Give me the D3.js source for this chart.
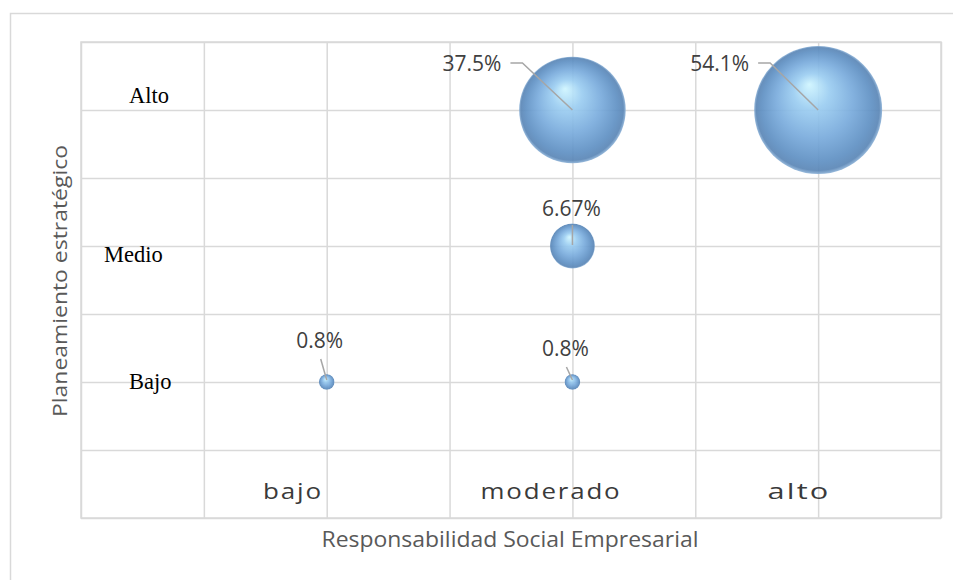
<!DOCTYPE html>
<html>
<head>
<meta charset="utf-8">
<script src="https://cdn.jsdelivr.net/npm/d3@7"></script>
<style>
  html, body { margin: 0; padding: 0; background: #fff; }
  svg { display: block; }
</style>
</head>
<body>
<svg id="chart" width="953" height="580"></svg>
<script>
// ---- data ----
const xCategories = ["bajo", "moderado", "alto"];
const xCategoryValues = [2, 4, 6];
const yCategories = ["Bajo", "Medio", "Alto"];
const yCategoryValues = [2, 4, 6];
const pointX = ["bajo", "moderado", "moderado", "moderado", "alto"];
const pointY = ["Bajo", "Bajo", "Medio", "Alto", "Alto"];
const pointValues = [0.8, 0.8, 6.67, 37.5, 54.1];
const pointLabels = ["0.8%", "0.8%", "6.67%", "37.5%", "54.1%"];
const xTitle = "Responsabilidad Social Empresarial";
const yTitle = "Planeamiento estratégico";

// ---- layout (not data) ----
const plot = { left: 81, right: 941, top: 42, bottom: 518 };
const labelLayout = [
  { dx: -7, dy: -34, anchor: "middle", leader: [[-6, -23], [0, -2]] },
  { dx: -7, dy: -26, anchor: "middle", leader: [[-6, -15], [0, -2]] },
  { dx: -1, dy: -30, anchor: "middle", leader: [[0, -21], [0, -1]] },
  { dx: -71, dy: -39, anchor: "end", leader: [[-62, -47], [-50, -47], [0, 0]] },
  { dx: -69, dy: -39, anchor: "end", leader: [[-60, -47], [-48, -47], [0, 0]] }
];
const yLabelLayout = [
  { x: 129, y: 389 },
  { x: 104, y: 262 },
  { x: 129, y: 103 }
];
const xLabelLayout = [
  { x: 293, w: 60 },
  { x: 551, w: 141 },
  { x: 799, w: 63 }
];

const svg = d3.select("#chart");
const defs = svg.append("defs");
const grad = defs.append("radialGradient")
  .attr("id", "sphere").attr("cx", "50%").attr("cy", "50%").attr("r", "50%")
  .attr("fx", "43%").attr("fy", "30%");
[["0%", "#cff5ff"], ["28%", "#9bcdf1"], ["60%", "#79abdc"], ["86%", "#5f90c3"], ["96%", "#5a86b6"], ["100%", "#8eb3d8"]]
  .forEach(([o, c]) => grad.append("stop").attr("offset", o).attr("stop-color", c));

// outer chart border
svg.append("rect").attr("x", 10.5).attr("y", 13.5).attr("width", 1000).attr("height", 700)
  .attr("fill", "#fff").attr("stroke", "#d9d9d9").attr("stroke-width", 1.5);

const x = d3.scaleLinear().domain([0, 7]).range([plot.left, plot.right]);
const y = d3.scaleLinear().domain([0, 7]).range([plot.bottom, plot.top]);
const r = d3.scaleSqrt().domain([0, 54.1]).range([0, 64]);

// gridlines via axes
const gridColor = "#d9d9d9";
const gx = svg.append("g").attr("transform", `translate(0,${plot.bottom})`)
  .call(d3.axisBottom(x).ticks(7).tickSize(-(plot.bottom - plot.top)).tickFormat(""));
const gy = svg.append("g").attr("transform", `translate(${plot.left},0)`)
  .call(d3.axisLeft(y).ticks(7).tickSize(-(plot.right - plot.left)).tickFormat(""));
[gx, gy].forEach(g => {
  g.select(".domain").remove();
  g.selectAll("line").attr("stroke", gridColor).attr("stroke-width", 1.5);
});
svg.append("rect").attr("x", plot.left).attr("y", plot.top)
  .attr("width", plot.right - plot.left).attr("height", plot.bottom - plot.top)
  .attr("fill", "none").attr("stroke", gridColor).attr("stroke-width", 1.5);

// x category labels (inside bottom row)
const xPos = d => xCategoryValues[xCategories.indexOf(d)];
const yPos = d => yCategoryValues[yCategories.indexOf(d)];
svg.append("g").selectAll("text").data(xCategories).join("text")
  .attr("x", (d, i) => xLabelLayout[i].x)
  .attr("y", 499)
  .attr("text-anchor", "middle")
  .attr("textLength", (d, i) => xLabelLayout[i].w)
  .attr("lengthAdjust", "spacingAndGlyphs")
  .attr("font-family", "Open Sans, sans-serif")
  .attr("font-size", 21)
  .attr("letter-spacing", 1.5)
  .attr("fill", "#3a3a3a")
  .text(d => d);

// y category labels
svg.append("g").selectAll("text").data(yCategories).join("text")
  .attr("x", (d, i) => yLabelLayout[i].x)
  .attr("y", (d, i) => yLabelLayout[i].y)
  .attr("font-family", "Liberation Serif, Times New Roman, serif")
  .attr("font-size", 22.5)
  .attr("fill", "#000")
  .text(d => d);

// bubbles
const pts = pointValues.map((v, i) => ({
  x: x(xPos(pointX[i])), y: y(yPos(pointY[i])), r: r(v), label: pointLabels[i], lay: labelLayout[i]
}));
svg.append("g").selectAll("circle").data(pts).join("circle")
  .attr("cx", d => d.x).attr("cy", d => d.y).attr("r", d => d.r)
  .attr("fill", "url(#sphere)").attr("fill-opacity", 0.92);

// leader lines
svg.append("g").selectAll("path").data(pts).join("path")
  .attr("d", d => d3.line()(d.lay.leader.map(p => [d.x + p[0], d.y + p[1]])))
  .attr("fill", "none").attr("stroke", "#a6a6a6").attr("stroke-width", 1.5);

// data labels
svg.append("g").selectAll("text").data(pts).join("text")
  .attr("x", d => d.x + d.lay.dx).attr("y", d => d.y + d.lay.dy)
  .attr("text-anchor", d => d.lay.anchor)
  .attr("font-family", "Open Sans, sans-serif")
  .attr("font-size", 21)
  .attr("fill", "#404040")
  .text(d => d.label);

// axis titles
svg.append("text")
  .attr("x", 510).attr("y", 547)
  .attr("text-anchor", "middle")
  .attr("textLength", 377)
  .attr("lengthAdjust", "spacingAndGlyphs")
  .attr("font-family", "Open Sans, sans-serif")
  .attr("font-size", 22)
  .attr("fill", "#595959")
  .text(xTitle);

svg.append("text")
  .attr("transform", "translate(67,281) rotate(-90)")
  .attr("text-anchor", "middle")
  .attr("textLength", 272)
  .attr("lengthAdjust", "spacingAndGlyphs")
  .attr("font-family", "Open Sans, sans-serif")
  .attr("font-size", 20)
  .attr("fill", "#595959")
  .text(yTitle);
</script>
</body>
</html>
